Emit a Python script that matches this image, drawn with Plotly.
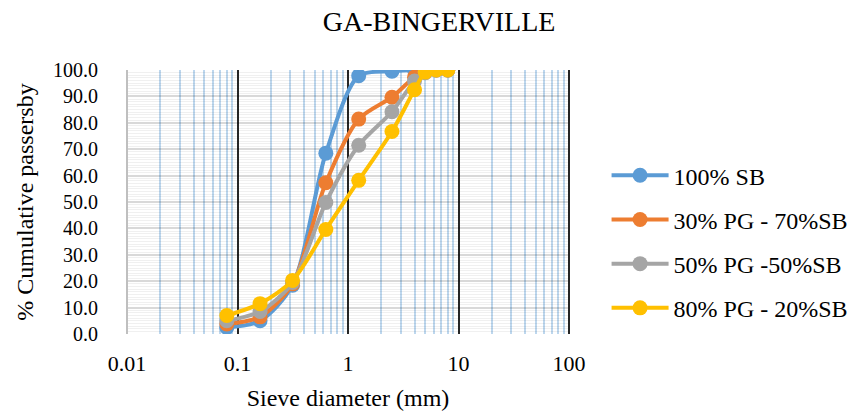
import plotly.graph_objects as go

sieve_mm = [0.08, 0.16, 0.315, 0.63, 1.25, 2.5, 4, 5, 6.3, 8]
sb100 = [2.5, 5.0, 18.5, 68.5, 97.8, 99.5, 100.0, 100.0, 100.0, 100.0]
pg30_sb70 = [3.8, 6.5, 19.0, 57.3, 81.4, 89.7, 97.3, 99.2, 100.0, 100.0]
pg50_sb50 = [5.0, 8.5, 19.5, 49.8, 71.5, 84.2, 95.8, 99.0, 100.0, 100.0]
pg80_sb20 = [7.0, 11.5, 20.3, 39.6, 58.2, 76.7, 92.5, 99.2, 100.0, 100.0]

series_names = ["100% SB", "30% PG - 70%SB", "50% PG -50%SB", "80% PG - 20%SB"]
series_values = [sb100, pg30_sb70, pg50_sb50, pg80_sb20]
series_colors = ["#5B9BD5", "#ED7D31", "#A5A5A5", "#FFC000"]

x_tickvals = [0.01, 0.1, 1, 10, 100]
x_ticktext = ["0.01", "0.1", "1", "10", "100"]

FONT = "Liberation Serif"

fig = go.Figure()
for i, (name, vals, col) in enumerate(zip(series_names, series_values, series_colors)):
    fig.add_trace(go.Scatter(
        x=sieve_mm, y=vals, name=name, mode="lines+markers",
        line=dict(color=col, width=4, shape="spline", smoothing=0.8),
        marker=dict(color=col, size=15),
        legendgroup=f"g{i}",
    ))

fig.update_layout(
    width=866, height=415,
    margin=dict(l=127, r=297, t=70, b=81),
    paper_bgcolor="white", plot_bgcolor="white",
    font=dict(family=FONT, color="black"),
    title=dict(text="GA-BINGERVILLE", x=0.507, xanchor="center", y=0.95, yanchor="middle",
               font=dict(size=28, family=FONT, color="black"), automargin=False),
    legend=dict(x=1.085, xanchor="left", y=0.685, yanchor="top",
                font=dict(size=24, family=FONT, color="black"),
                tracegroupgap=10, itemwidth=57, bgcolor="rgba(0,0,0,0)"),
    showlegend=True,
)

fig.update_xaxes(
    type="log", range=[-2, 2], automargin=False,
    tickvals=x_tickvals, ticktext=x_ticktext,
    showgrid=True, gridcolor="#262626", gridwidth=2,
    minor=dict(dtick="D1", showgrid=True, gridcolor="#BDD7EE", gridwidth=2, ticks=""),
    showline=False, zeroline=False, ticks="",
    tickfont=dict(size=22, family=FONT, color="black"),
    ticklabelstandoff=14,
    title=dict(text="Sieve diameter (mm)", font=dict(size=24, family=FONT, color="black"), standoff=14),
)
fig.update_yaxes(
    range=[0, 100], dtick=10, tickformat=".1f", automargin=False,
    showgrid=True, gridcolor="rgba(0,0,0,0.15)", gridwidth=2,
    minor=dict(dtick=1, showgrid=True, gridcolor="rgba(0,0,0,0.06)", gridwidth=1, ticks=""),
    showline=False, zeroline=False, ticks="",
    tickfont=dict(size=20, family=FONT, color="black"),
    ticklabelstandoff=28,
    title=dict(text="% Cumulative passersby", font=dict(size=24, family=FONT, color="black"), standoff=12),
)

# plot frame: gray on the left, black on the right
fig.add_shape(type="line", xref="paper", yref="paper", x0=0, x1=0, y0=0, y1=1,
              line=dict(color="#BFBFBF", width=2), layer="above")
fig.add_shape(type="line", xref="paper", yref="paper", x0=1, x1=1, y0=0, y1=1,
              line=dict(color="#262626", width=2), layer="above")

fig.write_html("out.html", config={"displayModeBar": False},
               post_script="document.body.style.margin='0';")
